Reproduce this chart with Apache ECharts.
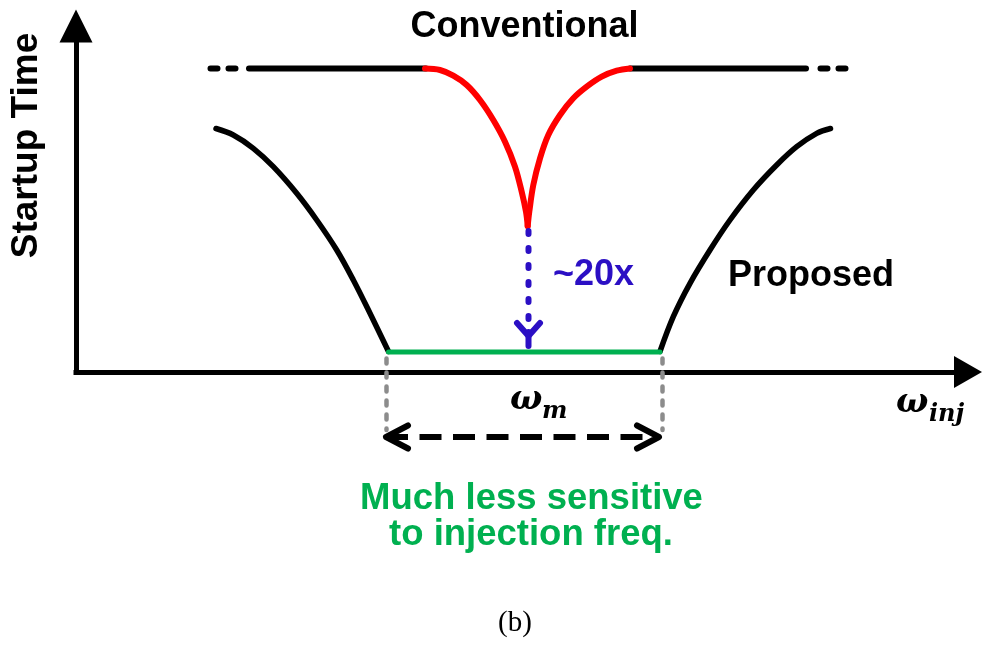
<!DOCTYPE html>
<html>
<head>
<meta charset="utf-8">
<script src="https://cdn.jsdelivr.net/npm/echarts@6/dist/echarts.min.js"></script>
<style>
  html, body { margin: 0; padding: 0; background: #ffffff; }
  #chart { width: 982px; height: 648px; }
</style>
</head>
<body>
<div id="chart"></div>
<script>
// ---------------- DATA (arbitrary schematic units: x = injection frequency, y = startup time) ----------------
const xRange = [0, 892];
const yRange = [0, 346];

// Conventional curve
const conventionalLeftDots  = [[134.5, 303.5], [159.6, 303.5]];
const conventionalLeftFlat  = [[173, 303.5], [350, 303.5]];
const conventionalDipLeft   = [[349, 303.5], [364, 302], [377.3, 296.3], [390.7, 287], [404, 272], [417.3, 252],
                               [429, 230.3], [439, 205.3], [445.7, 180.3], [450, 160.3], [451.7, 146]];
const conventionalDipRight  = [[451.7, 146], [453.3, 160.3], [457.3, 187], [464, 213.7], [472.3, 237], [484, 257],
                               [497.3, 273.7], [510.7, 285.3], [525.7, 295.3], [540.7, 301.3], [554, 303.5]];
const conventionalRightFlat = [[554, 303.5], [730, 303.5]];
const conventionalRightDots = [[744.5, 303.5], [769.6, 303.5]];

// Proposed curve
const proposedLeft  = [[140, 243.5], [157.3, 237], [177.3, 223.7], [197.3, 205.3], [220.7, 178.7], [240.7, 152],
                       [260.7, 122], [277.3, 92], [294, 58.7], [312.5, 20.5]];
const proposedFlat  = [[312.5, 20], [584, 20]];
const proposedRight = [[584, 20.5], [597.3, 55.3], [614, 88.7], [634, 122], [654, 152], [677.3, 182],
                       [700.7, 207], [720.7, 225.3], [740.7, 238.7], [754.5, 243.5]];

// Annotations
const improvementArrow = [[452.5, 141], [452.5, 25]];        // dotted blue "~20x" arrow (from, to)
const lockRangeEdgesX  = [310.5, 586.5];                      // grey dashed markers at band edges
const lockRangeMarkY   = [13.5, -58];                         // extent of the grey markers
const lockRangeArrow   = [[310, -65], [583, -65]];            // double arrow for omega_m

// Texts
const yAxisTitle   = 'Startup Time';
const xAxisSymbol  = ['ω', 'inj'];
const bandSymbol   = ['ω', 'm'];
const conventionalLabel = 'Conventional';
const proposedLabel     = 'Proposed';
const improvementLabel  = '~20x';
const noteLines    = ['Much less sensitive', 'to injection freq.'];
const captionText  = '(b)';

// ---------------- STYLES ----------------
const BLACK = '#000000', RED = '#ff0000', GREEN = '#00b050', BLUE = '#2b0fc4', GREY = '#8c8c8c';
const SANS = '"Liberation Sans", Arial, sans-serif';
const MATH = '"DejaVu Serif", serif';

function curve(data, color, width, opts) {
  opts = opts || {};
  return {
    type: 'line', data: data, symbol: 'none', smooth: opts.smooth || false,
    clip: false, silent: true, animation: false, z: opts.z || 3,
    lineStyle: { color: color, width: width, type: opts.dash || 'solid', cap: 'round', join: 'round' }
  };
}

function segments(segs, style, z) {
  return {
    type: 'custom', clip: false, silent: true, animation: false, z: z || 4,
    data: segs.map(s => [s[0][0], s[0][1], s[1][0], s[1][1]]),
    encode: { x: [0, 2], y: [1, 3] },
    renderItem: function (params, api) {
      const a = api.coord([api.value(0), api.value(1)]);
      const b = api.coord([api.value(2), api.value(3)]);
      return { type: 'line', shape: { x1: a[0], y1: a[1], x2: b[0], y2: b[1] },
               style: Object.assign({ fill: null }, style) };
    }
  };
}

// open chevron arrow head at a data point, pointing in direction (dx, dy) in screen space
function chevrons(points, dirs, color, width, len, half, stem) {
  return {
    type: 'custom', clip: false, silent: true, animation: false, z: 6,
    data: points.map((p, i) => [p[0], p[1], i]),
    encode: { x: 0, y: 1 },
    renderItem: function (params, api) {
      const t = api.coord([api.value(0), api.value(1)]);
      const d = dirs[api.value(2)];
      const nx = -d[1], ny = d[0];
      const bx = t[0] - d[0] * len, by = t[1] - d[1] * len;
      const children = [{
        type: 'polyline',
        shape: { points: [[bx + nx * half, by + ny * half], [t[0], t[1]], [bx - nx * half, by - ny * half]] },
        style: { stroke: color, lineWidth: width, fill: null, lineCap: 'round', lineJoin: 'round' }
      }];
      if (stem) {
        children.push({ type: 'line',
          shape: { x1: t[0] - d[0] * stem[0], y1: t[1] - d[1] * stem[0], x2: t[0] + d[0] * stem[1], y2: t[1] + d[1] * stem[1] },
          style: { stroke: color, lineWidth: width, lineCap: 'round' } });
      }
      return { type: 'group', children: children };
    }
  };
}

const chart = echarts.init(document.getElementById('chart'), null, { renderer: 'canvas' });

const axisLineCommon = { show: true, onZero: false, lineStyle: { color: BLACK, width: 5, cap: 'square' } };

chart.setOption({
  animation: false,
  backgroundColor: '#ffffff',
  grid: { left: 76, right: 14, top: 26, bottom: 276, containLabel: false },
  xAxis: {
    type: 'value', min: xRange[0], max: xRange[1],
    axisLine: Object.assign({}, axisLineCommon, { symbol: ['none', 'triangle'], symbolSize: [32, 28] }),
    axisTick: { show: false }, axisLabel: { show: false }, splitLine: { show: false }
  },
  yAxis: {
    type: 'value', min: yRange[0], max: yRange[1],
    axisLine: Object.assign({}, axisLineCommon, { symbol: ['none', 'triangle'], symbolSize: [33, 33] }),
    axisTick: { show: false }, axisLabel: { show: false }, splitLine: { show: false }
  },
  series: [
    curve(conventionalLeftDots, BLACK, 6, { dash: [7, 11] }),
    curve(conventionalLeftFlat, BLACK, 6),
    curve(conventionalRightFlat, BLACK, 6),
    curve(conventionalRightDots, BLACK, 6, { dash: [7, 11] }),
    curve(conventionalDipLeft, RED, 6, { smooth: 0.35 }),
    curve(conventionalDipRight, RED, 6, { smooth: 0.35 }),
    curve(proposedLeft, BLACK, 5.5, { smooth: 0.35 }),
    curve(proposedRight, BLACK, 5.5, { smooth: 0.35 }),
    segments(lockRangeEdgesX.map(x => [[x, lockRangeMarkY[0]], [x, lockRangeMarkY[1]]]),
             { stroke: GREY, lineWidth: 4.5, lineDash: [5, 9], lineCap: 'round' }, 4),
    curve(proposedFlat, GREEN, 5, { z: 5 }),
    segments([improvementArrow.map((p, i) => i === 1 ? [p[0], p[1] + 13] : p)],
             { stroke: BLUE, lineWidth: 6, lineDash: [3, 14], lineCap: 'round' }, 6),
    chevrons([[improvementArrow[1][0], improvementArrow[1][1] + 11]], [[0, 1]], BLUE, 6, 13, 11.5, [4, 10]),
    segments([lockRangeArrow], { stroke: BLACK, lineWidth: 6, lineDash: [22, 11.5], lineCap: 'butt' }, 6),
    chevrons([lockRangeArrow[0], lockRangeArrow[1]], [[-1, 0], [1, 0]], BLACK, 6, 22, 11.5)
  ],
  graphic: [
    { type: 'text', x: 524.5, y: 27, style: { text: conventionalLabel, font: 'bold 36px ' + SANS, fill: BLACK, align: 'center', verticalAlign: 'middle' } },
    { type: 'text', x: 728, y: 276, style: { text: proposedLabel, font: 'bold 36px ' + SANS, fill: BLACK, align: 'left', verticalAlign: 'middle' } },
    { type: 'text', x: 553, y: 275.5, style: { text: improvementLabel, font: 'bold 36px ' + SANS, fill: BLUE, align: 'left', verticalAlign: 'middle' } },
    { type: 'text', x: 27, y: 145.5, rotation: Math.PI / 2, style: { text: yAxisTitle, font: 'bold 37px ' + SANS, fill: BLACK, align: 'center', verticalAlign: 'middle' } },
    { type: 'text', x: 510, y: 400, style: { text: bandSymbol[0], font: 'italic bold 34px ' + MATH, fill: BLACK, align: 'left', verticalAlign: 'middle' } },
    { type: 'text', x: 542, y: 412, style: { text: bandSymbol[1], font: 'italic bold 24px ' + MATH, fill: BLACK, align: 'left', verticalAlign: 'middle' } },
    { type: 'text', x: 896, y: 403, style: { text: xAxisSymbol[0], font: 'italic bold 34px ' + MATH, fill: BLACK, align: 'left', verticalAlign: 'middle' } },
    { type: 'text', x: 929, y: 415, style: { text: xAxisSymbol[1], font: 'italic bold 24px ' + MATH, fill: BLACK, align: 'left', verticalAlign: 'middle' } },
    { type: 'text', x: 531.5, y: 499, style: { text: noteLines[0], font: 'bold 36.5px ' + SANS, fill: GREEN, align: 'center', verticalAlign: 'middle' } },
    { type: 'text', x: 531, y: 534.5, style: { text: noteLines[1], font: 'bold 36.5px ' + SANS, fill: GREEN, align: 'center', verticalAlign: 'middle' } },
    { type: 'text', x: 515, y: 623, style: { text: captionText, font: '29px "Liberation Serif", "Times New Roman", serif', fill: BLACK, align: 'center', verticalAlign: 'middle' } }
  ]
});
</script>
</body>
</html>
